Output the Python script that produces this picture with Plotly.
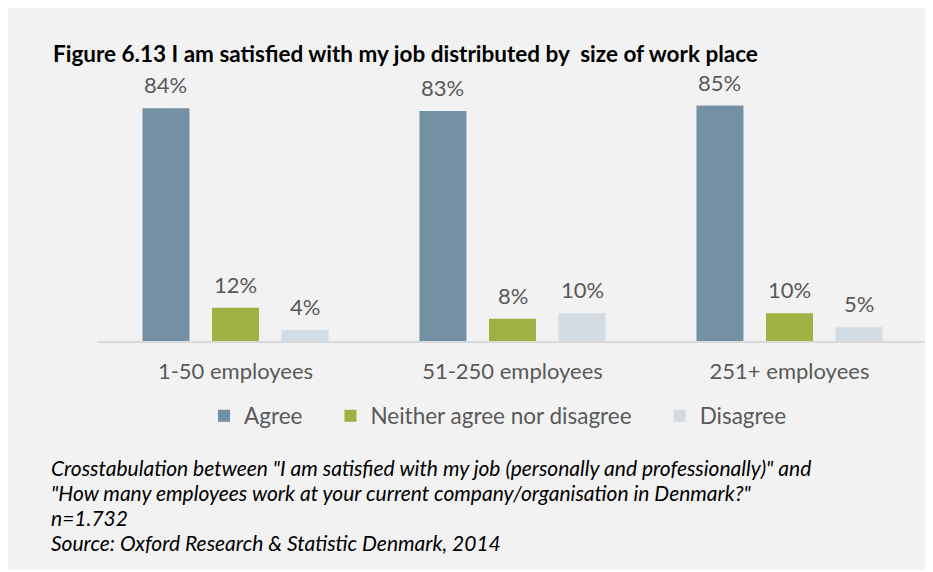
import plotly.graph_objects as go

# data
categories = ["1-50 employees", "51-250 employees", "251+ employees"]
series_names = ["Agree", "Neither agree nor disagree", "Disagree"]
agree = [84, 83, 85]
neither = [12, 8, 10]
disagree = [4, 10, 5]
colors = ["#7590a3", "#9eb143", "#d3dce3"]

caption_lines = [
    "Crosstabulation between \"I am satisfied with my job (personally and professionally)\" and",
    "\"How many employees work at your current company/organisation in Denmark?\"",
    "n=1.732",
    "Source: Oxford Research & Statistic Denmark, 2014",
]

# the page body adds an 8px margin, so the figure is 8px smaller than the window
OFF = 8
W_PX, H_PX = 933 - OFF, 572 - OFF
L, R, T, B = 89, 5, 56, 231
plot_w = W_PX - L - R
plot_h = H_PX - T - B
BARGAP = 0.247
FONT = "Lato"
GREY_TXT = "#595959"


def px_x(px):
    # page pixel -> paper x
    return (px - OFF - L) / plot_w


def px_y(py):
    # page pixel -> paper y
    return (H_PX - B - (py - OFF)) / plot_h


fig = go.Figure()
values = [agree, neither, disagree]
pads = [4, 4, 0]  # spacing after legend labels
for name, vals, col, p in zip(series_names, values, colors, pads):
    fig.add_trace(go.Bar(x=categories, y=vals, name=name + "\u00a0" * p,
                         marker_color=col, marker_line_width=0))

# value labels above bars
slot = plot_w / len(categories) * (1 - BARGAP) / len(series_names)
anns = []
for i, vals in enumerate(values):
    for c, v in zip(categories, vals):
        anns.append(dict(x=c, y=v, text=f"{v}%", showarrow=False, xref="x", yref="y",
                         xshift=(i - 1) * slot, yshift=8, yanchor="bottom",
                         font=dict(family=FONT, size=22, color=GREY_TXT)))

for k, line in enumerate(caption_lines):
    anns.append(dict(x=px_x(49), y=px_y(467 + 25 * k), xref="paper", yref="paper",
                     text=line, showarrow=False, xanchor="left", yanchor="middle",
                     font=dict(family=FONT, size=21, color="#000000", style="italic")))

fig.update_layout(
    width=W_PX, height=H_PX,
    margin=dict(l=L, r=R, t=T, b=B),
    paper_bgcolor="#ffffff",
    plot_bgcolor="rgba(0,0,0,0)",
    barmode="group", bargap=BARGAP, bargroupgap=0.324,
    title=dict(text="<b>Figure 6.13 I am satisfied with my job distributed by  size of work place</b>",
               xref="container", yref="container",
               x=(53 - OFF) / W_PX, y=1 - (54 - OFF) / H_PX,
               xanchor="left", yanchor="middle",
               font=dict(family=FONT, size=22.5, color="#000000")),
    xaxis=dict(showline=True, linecolor="#d9d9d9", linewidth=2, ticks="",
               tickfont=dict(family=FONT, size=22, color=GREY_TXT),
               ticklabelstandoff=10,
               showgrid=False, zeroline=False),
    yaxis=dict(range=[0, 100], visible=False, showgrid=False, zeroline=False),
    legend=dict(orientation="h", x=px_x(204), y=px_y(416), xanchor="left", yanchor="middle",
                font=dict(family=FONT, size=22.5, color=GREY_TXT),
                bgcolor="rgba(0,0,0,0)"),
    annotations=anns,
    shapes=[dict(type="rect", xref="paper", yref="paper", layer="below",
                 x0=px_x(8), x1=px_x(931), y0=px_y(570), y1=px_y(5),
                 fillcolor="#f2f2f2", line_width=0)],
)

fig.write_html("out.html")
